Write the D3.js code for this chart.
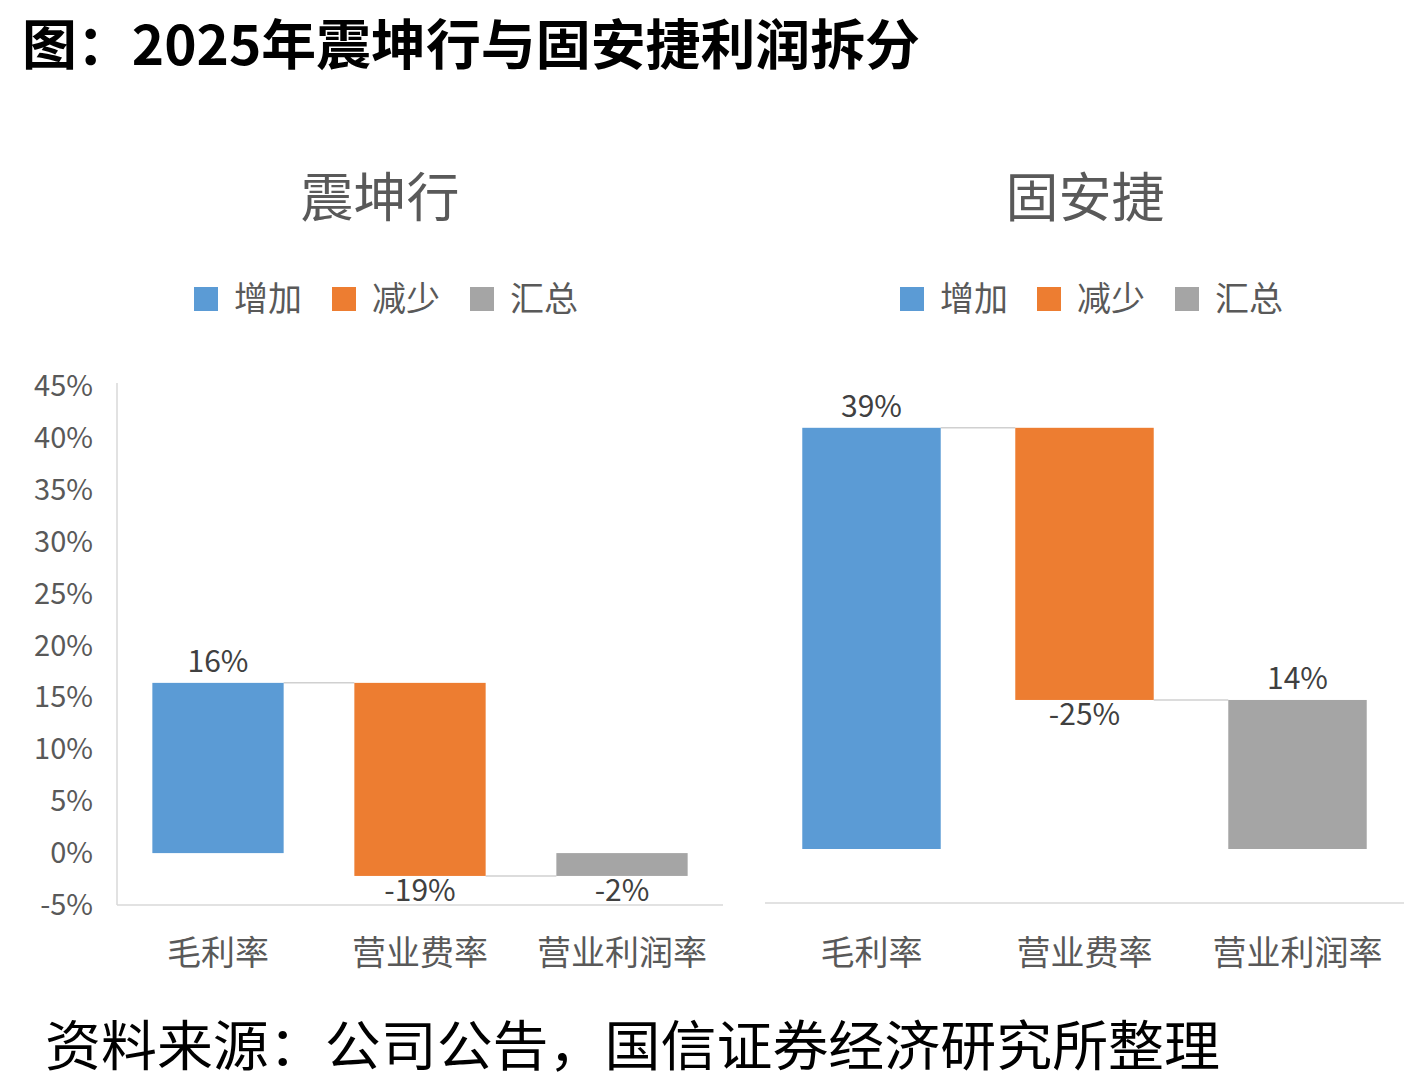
<!DOCTYPE html>
<html>
<head>
<meta charset="utf-8">
<script src="https://cdn.jsdelivr.net/npm/d3@7"></script>
<style>
  body { margin: 0; background: #fff; }
  text { font-family: "Noto Sans CJK SC", "Noto Sans", sans-serif; }
</style>
</head>
<body>
<svg id="chart" width="1408" height="1086"></svg>
<script>
// data
var categories = ["毛利率", "营业费率", "营业利润率"];
var legendNames = ["增加", "减少", "汇总"];
var zkhValues = [16.4, -18.6];   // 震坤行: gross margin, expense ratio
var gajValues = [39.0, -25.2];   // 固安捷
var yTicks = [-5, 0, 5, 10, 15, 20, 25, 30, 35, 40, 45];

var colors = ["#5b9bd5", "#ed7d31", "#a5a5a5"];
var svg = d3.select("#chart");
var pct = v => Math.round(v) + "%";

// title + source
svg.append("text")
  .attr("x", 22).attr("y", 65)
  .attr("textLength", 898).attr("lengthAdjust", "spacingAndGlyphs")
  .style("font-size", "54px").style("font-weight", "bold").style("fill", "#000")
  .text("图：2025年震坤行与固安捷利润拆分");

svg.append("text")
  .attr("x", 45).attr("y", 1066)
  .attr("textLength", 1175).attr("lengthAdjust", "spacingAndGlyphs")
  .style("font-size", "54px").style("fill", "#000")
  .text("资料来源：公司公告，国信证券经济研究所整理");

function panel(opt) {
  var g = svg.append("g");
  var vals = opt.values;
  var total = d3.sum(vals);

  // waterfall segments
  var bars = [
    { cat: categories[0], lo: 0, hi: vals[0], v: vals[0], type: 0 },
    { cat: categories[1], lo: vals[0] + vals[1], hi: vals[0], v: vals[1], type: 1 },
    { cat: categories[2], lo: Math.min(0, total), hi: Math.max(0, total), v: total, type: 2 }
  ];

  var x = d3.scaleBand()
    .domain(categories)
    .range([opt.x0, opt.x1])
    .paddingInner(0.35)
    .paddingOuter(0.175);

  var y = d3.scaleLinear().domain([-5, 45]).range([opt.yBottom, opt.yTop]);

  // subtitle
  g.append("text")
    .attr("x", opt.titleX).attr("y", 217)
    .attr("text-anchor", "middle")
    .style("font-size", "53px").style("fill", "#595959")
    .text(opt.title);

  // legend
  var lg = g.selectAll(".lg").data(legendNames).enter().append("g")
    .attr("transform", (d, i) => `translate(${opt.legendX[i]},287)`);
  lg.append("rect").attr("width", 24).attr("height", 24).attr("fill", (d, i) => colors[i]);
  lg.append("text").attr("x", 40).attr("y", 24)
    .style("font-size", "34px").style("fill", "#595959")
    .text(d => d);

  // axes lines
  if (opt.showY) {
    g.append("line")
      .attr("x1", opt.x0).attr("x2", opt.x0)
      .attr("y1", y(45) - 3).attr("y2", y(-5))
      .attr("stroke", "#d9d9d9").attr("stroke-width", 1.5);
    g.selectAll(".tick").data(yTicks).enter().append("text")
      .attr("x", 93).attr("y", d => y(d) + 10)
      .attr("text-anchor", "end")
      .style("font-size", "29px").style("fill", "#595959")
      .text(d => d + "%");
  }
  g.append("line")
    .attr("x1", opt.x0).attr("x2", opt.x1)
    .attr("y1", y(-5)).attr("y2", y(-5))
    .attr("stroke", "#d9d9d9").attr("stroke-width", 1.5);

  // connectors
  var links = [[0, vals[0]], [1, vals[0] + vals[1]]];
  g.selectAll(".link").data(links).enter().append("line")
    .attr("x1", d => x(categories[d[0]]) + x.bandwidth())
    .attr("x2", d => x(categories[d[0] + 1]))
    .attr("y1", d => y(d[1])).attr("y2", d => y(d[1]))
    .attr("stroke", "#d0d0d0").attr("stroke-width", 1.5);

  // bars
  g.selectAll(".bar").data(bars).enter().append("rect")
    .attr("x", d => x(d.cat))
    .attr("width", x.bandwidth())
    .attr("y", d => y(d.hi))
    .attr("height", d => y(d.lo) - y(d.hi))
    .attr("fill", d => colors[d.type]);

  // data labels
  g.selectAll(".lbl").data(bars).enter().append("text")
    .attr("x", d => x(d.cat) + x.bandwidth() / 2)
    .attr("y", d => d.v >= 0 ? y(d.hi) - 11 : y(d.lo) + 25)
    .attr("text-anchor", "middle")
    .style("font-size", "30px").style("fill", "#404040")
    .text(d => pct(d.v));

  // category labels
  g.selectAll(".cat").data(categories).enter().append("text")
    .attr("x", d => x(d) + x.bandwidth() / 2)
    .attr("y", 965)
    .attr("text-anchor", "middle")
    .style("font-size", "34px").style("fill", "#595959")
    .text(d => d);
}

panel({
  title: "震坤行", titleX: 380, values: zkhValues,
  x0: 117, x1: 723, yTop: 386, yBottom: 905, showY: true,
  legendX: [194, 332, 470]
});

panel({
  title: "固安捷", titleX: 1085, values: gajValues,
  x0: 765, x1: 1404, yTop: 363, yBottom: 903, showY: false,
  legendX: [900, 1037, 1175]
});
</script>
</body>
</html>
